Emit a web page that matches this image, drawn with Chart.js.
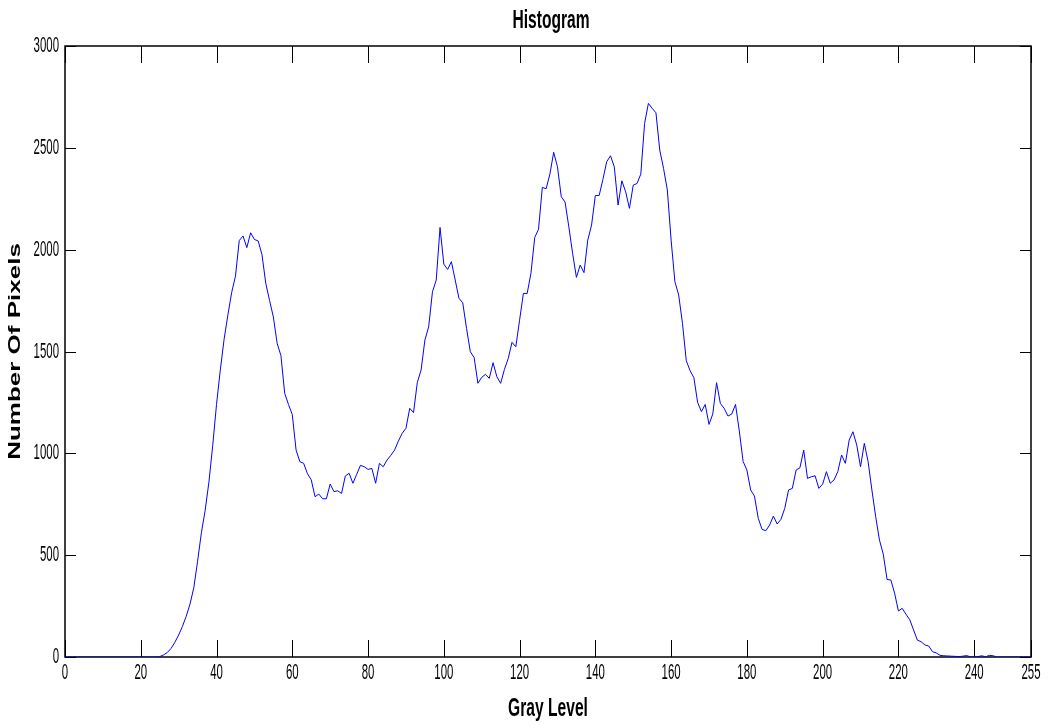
<!DOCTYPE html>
<html>
<head>
<meta charset="utf-8">
<script src="https://cdn.jsdelivr.net/npm/chart.js@4.4.0/dist/chart.umd.min.js"></script>
<style>
html,body{margin:0;padding:0;background:#ffffff;}
#wrap{width:1050px;height:727px;position:relative;}
</style>
</head>
<body>
<div id="wrap"><canvas id="c" width="1050" height="727"></canvas></div>
<script>
// ---- data ----
const chartTitle = "Histogram";
const xAxisTitle = "Gray Level";
const yAxisTitle = "Number Of Pixels";
const xTickValues = [0, 20, 40, 60, 80, 100, 120, 140, 160, 180, 200, 220, 240, 255];
const yTickValues = [0, 500, 1000, 1500, 2000, 2500, 3000];
// pixel counts for gray levels 0..255
const pixelCounts = [
  0,0,0,0,0,0,0,0,0,0,                                  // 0-9
  0,0,0,0,0,0,0,0,0,0,                                  // 10-19
  0,0,0,0,0,2,10,22,42,72,                              // 20-29
  108,150,200,260,340,470,610,720,860,1040,             // 30-39
  1240,1410,1560,1680,1790,1870,2045,2067,2010,2083,    // 40-49
  2050,2043,1975,1835,1750,1670,1540,1480,1294,1240,    // 50-59
  1190,1016,959,951,900,870,787,800,777,777,            // 60-69
  849,812,816,803,889,902,853,897,941,934,              // 70-79
  921,926,853,951,934,967,990,1016,1060,1098,           // 80-89
  1123,1221,1200,1348,1409,1556,1621,1793,1851,2109,    // 90-99
  1929,1903,1941,1851,1761,1739,1613,1499,1470,1344,    // 100-109
  1373,1388,1368,1445,1376,1344,1412,1466,1545,1523,    // 110-119
  1654,1785,1785,1884,2060,2100,2306,2299,2371,2478,    // 120-129
  2407,2260,2234,2112,1982,1864,1924,1887,2047,2121,    // 130-139
  2266,2266,2345,2432,2461,2407,2219,2338,2284,2203,    // 140-149
  2317,2325,2371,2620,2718,2694,2672,2489,2399,2293,    // 150-159
  2047,1843,1777,1638,1455,1406,1372,1250,1205,1240,    // 160-169
  1142,1193,1347,1245,1221,1183,1193,1240,1110,960,     // 170-179
  918,820,790,681,627,620,648,692,653,676,              // 180-189
  730,820,828,918,929,1016,877,885,890,828,             // 190-199
  849,910,853,869,910,992,951,1065,1106,1041,           // 200-209
  934,1049,959,820,689,574,505,381,378,313,             // 210-219
  226,239,210,183,133,83,75,59,54,26,                   // 220-229
  20,8,6,5,4,3,2,4,7,1,                                 // 230-239
  0,2,6,1,8,6,0,0,0,0,                                  // 240-249
  0,0,0,0,0,0                                           // 250-255
];
const grayLevels = pixelCounts.map((_, i) => i);

// ---- drawing helpers ----
const FONT = "'Liberation Sans', Arial, Helvetica, sans-serif";
const SX = 0.6;       // horizontal squeeze of the lettering
const TICK_SX = 0.52; // squeeze of the tick numbers

function squeezedText(ctx, text, x, y, font, align, sx) {
  ctx.save();
  ctx.translate(x, y);
  ctx.scale(sx, 1);
  ctx.font = font;
  ctx.textAlign = align;
  ctx.textBaseline = 'middle';
  ctx.fillStyle = '#000000';
  ctx.fillText(text, 0, 0);
  ctx.restore();
}

const framePlugin = {
  id: 'matlabFrame',
  beforeDatasetsDraw(chart) {
    const {ctx, chartArea: a, scales} = chart;
    ctx.save();
    ctx.strokeStyle = '#000000';
    ctx.lineWidth = 1;
    // inward tick marks
    ctx.beginPath();
    scales.x.ticks.forEach(t => {
      const px = Math.round(scales.x.getPixelForValue(t.value)) + 0.5;
      ctx.moveTo(px, a.bottom); ctx.lineTo(px, a.bottom - 17);
      ctx.moveTo(px, a.top); ctx.lineTo(px, a.top + 17);
    });
    scales.y.ticks.forEach(t => {
      const py = Math.round(scales.y.getPixelForValue(t.value)) + 0.5;
      ctx.moveTo(a.left, py); ctx.lineTo(a.left + 11, py);
      ctx.moveTo(a.right, py); ctx.lineTo(a.right - 11, py);
    });
    ctx.stroke();
    // box
    ctx.lineWidth = 1.5;
    ctx.strokeRect(a.left, a.top, a.right - a.left, a.bottom - a.top);
    ctx.restore();
  },
  afterDraw(chart) {
    const {ctx, chartArea: a, scales} = chart;
    const tickFont = "normal 22px " + FONT;
    scales.x.ticks.forEach(t => {
      squeezedText(ctx, String(t.value), scales.x.getPixelForValue(t.value), a.bottom + 16, tickFont, 'center', TICK_SX);
    });
    scales.y.ticks.forEach(t => {
      squeezedText(ctx, String(t.value), a.left - 6, scales.y.getPixelForValue(t.value), tickFont, 'right', TICK_SX);
    });
    const labFont = "bold 26px " + FONT;
    const cx = (a.left + a.right) / 2;
    squeezedText(ctx, chartTitle, cx + 3, 21, labFont, 'center', SX);
    squeezedText(ctx, xAxisTitle, cx, 709, labFont, 'center', SX);
    // rotated y title: squeeze thickness (screen x) only
    ctx.save();
    ctx.translate(15, (a.top + a.bottom) / 2);
    ctx.rotate(-Math.PI / 2);
    ctx.scale(1, 0.66);
    ctx.font = labFont;
    ctx.textAlign = 'center';
    ctx.textBaseline = 'middle';
    ctx.fillStyle = '#000000';
    ctx.fillText(yAxisTitle, 0, 0);
    ctx.restore();
  }
};

new Chart(document.getElementById('c').getContext('2d'), {
  type: 'line',
  data: {
    datasets: [{
      label: 'Histogram',
      data: grayLevels.map((g, i) => ({x: g, y: pixelCounts[i]})),
      borderColor: '#0000ff',
      borderWidth: 1,
      pointRadius: 0,
      tension: 0,
      fill: false
    }]
  },
  options: {
    responsive: false,
    animation: false,
    devicePixelRatio: 1,
    layout: {padding: {left: 0, right: 19, top: 46, bottom: 0}},
    plugins: {legend: {display: false}, tooltip: {enabled: false}, title: {display: false}},
    scales: {
      x: {
        type: 'linear', min: 0, max: 255,
        grid: {display: false}, border: {display: false},
        ticks: {display: false},
        afterBuildTicks: s => { s.ticks = xTickValues.map(v => ({value: v})); },
        afterFit: s => { s.height = 70; }
      },
      y: {
        type: 'linear', min: 0, max: 3000,
        grid: {display: false}, border: {display: false},
        ticks: {display: false},
        afterBuildTicks: s => { s.ticks = yTickValues.map(v => ({value: v})); },
        afterFit: s => { s.width = 65; }
      }
    }
  },
  plugins: [framePlugin]
});
</script>
</body>
</html>
